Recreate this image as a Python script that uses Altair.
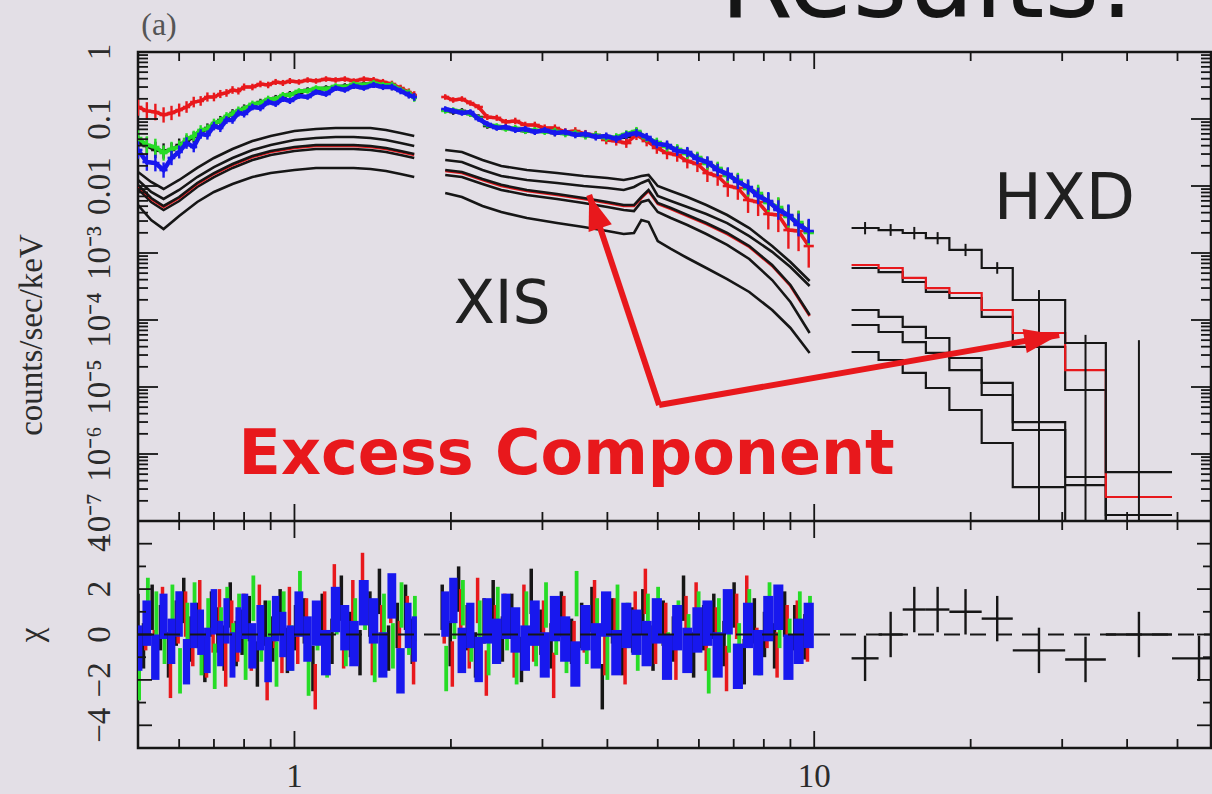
import math
import altair as alt
import pandas as pd

# ---------------- palette / fonts ----------------
RED, GREEN, BLUE, BLACK = "#e8181c", "#26dc26", "#1818ee", "#161616"
INK = "#2b2b2b"
BG = "#e3dfe6"
SERIF = "Liberation Serif"
SANS = "DejaVu Sans"

W, H_TOP, H_ALL = 1073, 469, 696   # plot width, upper panel height, both panels

# ---------------- XIS spectra (counts/sec/keV) ----------------
E_SOFT = [0.50, 0.52, 0.54, 0.56, 0.58, 0.60, 0.62, 0.64, 0.66, 0.68, 0.70, 0.72,
          0.74, 0.76, 0.78, 0.80, 0.83, 0.86, 0.89, 0.92, 0.95, 0.98, 1.02, 1.06,
          1.10, 1.15, 1.20, 1.25, 1.30, 1.36, 1.42, 1.48, 1.54, 1.60, 1.66, 1.70]
E_HARD = [1.95, 2.02, 2.10, 2.18, 2.26, 2.35, 2.45, 2.55, 2.66, 2.78, 2.90, 3.03,
          3.17, 3.32, 3.47, 3.63, 3.80, 3.98, 4.16, 4.35, 4.55, 4.76, 4.98, 5.21,
          5.45, 5.70, 5.96, 6.23, 6.52, 6.82, 7.13, 7.46, 7.80, 8.16, 8.53, 8.92,
          9.33, 9.76]

RED_SOFT = [0.151, 0.132, 0.127, 0.115, 0.123, 0.136, 0.151, 0.179, 0.186, 0.213,
            0.213, 0.236, 0.245, 0.271, 0.262, 0.300, 0.300, 0.333, 0.322, 0.357,
            0.345, 0.369, 0.357, 0.382, 0.369, 0.395, 0.382, 0.395, 0.369, 0.395,
            0.382, 0.357, 0.333, 0.290, 0.253, 0.228]
GREEN_SOFT = [0.0520, 0.0409, 0.0382, 0.0311, 0.0357, 0.0382, 0.0503, 0.0557, 0.0685, 0.0709,
              0.0872, 0.0934, 0.111, 0.119, 0.136, 0.141, 0.168, 0.173, 0.199, 0.199,
              0.228, 0.228, 0.262, 0.262, 0.290, 0.280, 0.311, 0.300, 0.333, 0.322,
              0.345, 0.322, 0.322, 0.271, 0.245, 0.206]
BLUE_SOFT = [0.0345, 0.0228, 0.0220, 0.0173, 0.0262, 0.0322, 0.0438, 0.0382, 0.0597, 0.0577,
             0.0786, 0.0734, 0.0966, 0.0966, 0.123, 0.119, 0.151, 0.146, 0.179, 0.168,
             0.199, 0.186, 0.220, 0.213, 0.253, 0.236, 0.290, 0.271, 0.311, 0.290,
             0.322, 0.300, 0.300, 0.262, 0.228, 0.213]
BLACK_SOFT = [0.0454, 0.0395, 0.0345, 0.0333, 0.0345, 0.0409, 0.0469, 0.0539, 0.0618, 0.0734,
              0.0814, 0.0966, 0.104, 0.123, 0.127, 0.146, 0.156, 0.179, 0.186, 0.206,
              0.213, 0.236, 0.245, 0.271, 0.271, 0.290, 0.290, 0.311, 0.311, 0.333,
              0.322, 0.333, 0.300, 0.280, 0.236, 0.213]

RED_HARD = [0.213, 0.192, 0.199, 0.173, 0.151, 0.107, 0.104, 0.0902, 0.0934, 0.0814,
            0.0814, 0.0734, 0.0734, 0.0640, 0.0662, 0.0597, 0.0577, 0.0486, 0.0469, 0.0438,
            0.0577, 0.0469, 0.0369, 0.0311, 0.0290, 0.0236, 0.0213, 0.0156, 0.0141, 0.0100,
            0.00934, 0.00618, 0.00577, 0.00382, 0.00369, 0.00220, 0.00213, 0.00127]
GREEN_HARD = [0.132, 0.136, 0.127, 0.119, 0.104, 0.0814, 0.0786, 0.0709, 0.0734, 0.0662,
              0.0685, 0.0640, 0.0662, 0.0597, 0.0618, 0.0557, 0.0577, 0.0520, 0.0539, 0.0597,
              0.0662, 0.0520, 0.0454, 0.0382, 0.0357, 0.0300, 0.0271, 0.0213, 0.0186, 0.0141,
              0.0123, 0.00902, 0.00786, 0.00557, 0.00486, 0.00345, 0.00290, 0.00199]
BLUE_HARD = [0.141, 0.132, 0.123, 0.127, 0.100, 0.0842, 0.0734, 0.0760, 0.0685, 0.0709,
             0.0640, 0.0685, 0.0618, 0.0640, 0.0577, 0.0597, 0.0539, 0.0557, 0.0503, 0.0577,
             0.0618, 0.0539, 0.0423, 0.0409, 0.0333, 0.0322, 0.0253, 0.0228, 0.0173, 0.0151,
             0.0115, 0.00966, 0.00709, 0.00597, 0.00438, 0.00369, 0.00262, 0.00213]
BLACK_HARD = [0.136, 0.127, 0.132, 0.119, 0.107, 0.0786, 0.0760, 0.0734, 0.0709, 0.0662,
              0.0662, 0.0662, 0.0618, 0.0618, 0.0597, 0.0577, 0.0557, 0.0539, 0.0520, 0.0539,
              0.0640, 0.0503, 0.0438, 0.0395, 0.0345, 0.0311, 0.0262, 0.0220, 0.0179, 0.0146,
              0.0119, 0.00934, 0.00734, 0.00577, 0.00454, 0.00357, 0.00271, 0.00206]

# fractional 1-sigma errors per bin
ERR_SOFT = [0.35, 0.35, 0.33, 0.30, 0.28, 0.25, 0.22, 0.20, 0.18, 0.17,
            0.16, 0.15, 0.14, 0.14, 0.13, 0.13, 0.12, 0.12, 0.12, 0.11,
            0.11, 0.11, 0.10, 0.10, 0.10, 0.10, 0.10, 0.10, 0.10, 0.10,
            0.11, 0.11, 0.12, 0.12, 0.13, 0.14]
ERR_HARD = [0.10, 0.10, 0.10, 0.10, 0.10, 0.10, 0.10, 0.10, 0.11, 0.11,
            0.11, 0.11, 0.12, 0.12, 0.12, 0.13, 0.13, 0.13, 0.14, 0.14,
            0.15, 0.15, 0.16, 0.17, 0.18, 0.19, 0.20, 0.22, 0.24, 0.26,
            0.28, 0.30, 0.33, 0.36, 0.40, 0.44, 0.48, 0.52]
ERR_HARD_BI = [0.10, 0.10, 0.10, 0.10, 0.10, 0.11, 0.11, 0.11, 0.12, 0.12,
               0.12, 0.13, 0.13, 0.14, 0.14, 0.15, 0.15, 0.16, 0.17, 0.18,
               0.19, 0.20, 0.22, 0.24, 0.26, 0.29, 0.32, 0.36, 0.40, 0.45,
               0.50, 0.56, 0.62, 0.70, 0.80, 0.90, 1.00, 1.10]

# residuals (chi) per bin
RES_BLACK_SOFT = [0.8, -0.5, 1.2, 0.3, -0.9, 0.5, 1.5, -0.2, 0.4, -1.1, 0.9, 0.2, -0.6, 1.3, -0.4, 0.1, 0.7, -1.3,
                  0.5, -0.2, 1.0, -0.7, 0.3, 0.6, -1.5, 0.8, -0.3, 1.6, 0.0, -0.8, 0.9, 1.9, -0.6, 0.4, 1.2, -0.3]
RES_RED_SOFT = [-1.6, 0.3, -0.8, 1.1, -1.8, 0.6, 0.9, -0.4, 1.4, -0.9, 0.2, 1.0, -1.3, 0.5, -0.2, 0.8, -0.6, 1.2,
                -1.9, 0.4, -0.7, 1.1, -0.3, 0.6, -2.3, 0.9, 2.1, -0.5, 1.4, 2.6, -0.8, 0.3, 1.5, -0.4, 0.7, -1.2]
RES_GREEN_SOFT = [-1.9, 1.5, 0.9, -0.3, 1.2, -1.6, 0.4, 1.3, -0.8, 0.6, -1.4, 0.2, 1.1, -0.5, 0.8, -1.0, 1.6, -0.2,
                  0.5, -1.3, 0.9, -0.6, 1.8, -1.7, 0.3, -0.9, 1.0, -0.4, 0.6, 1.2, -1.1, 0.8, -0.5, 1.3, 0.1, 0.7]
RES_BLUE_SOFT = [-0.6, 0.5, -1.0, 0.8, -0.3, 0.9, -1.2, 0.4, 0.1, -0.7, 1.0, -0.4, 0.6, -0.9, 0.2, 0.8, -0.5, 0.3,
                 -1.1, 0.7, 0.0, -0.6, 0.9, -0.2, 0.5, -0.8, 1.1, 0.3, -0.4, 1.4, 0.6, -0.9, 1.7, -1.6, 0.4, -0.2]
RES_BLACK_HARD = [1.2, -0.4, 2.0, 0.3, -0.9, 0.6, 1.4, -0.2, 0.8, -1.1, 1.9, 0.1, -0.5, 0.9, -0.3, 0.4, 1.1, -2.3, 0.6,
                  -0.8, 0.2, 1.0, -0.6, 0.5, -0.2, 1.6, -0.9, 0.3, 0.8, -0.4, 1.3, -1.2, 0.6, 0.0, -0.5, 0.9, 0.3, -0.1]
RES_RED_HARD = [0.6, -1.3, 1.0, -0.5, 1.5, -1.7, 0.3, 0.8, -0.9, 1.2, -0.2, 0.5, -1.8, 0.7, -0.4, 0.2, 1.4, -0.8, 0.6,
                -1.2, 0.9, 1.9, -0.3, 0.4, -1.0, 0.7, 1.3, -0.6, 0.2, -1.5, 0.8, 1.6, -0.7, 0.4, -0.9, 0.3, 0.5, -0.2]
RES_GREEN_HARD = [-1.5, 0.8, 1.4, -0.2, 0.5, -0.8, 1.1, 0.3, -1.2, 0.9, -0.4, 1.3, 0.1, -0.7, 1.8, -0.3, 0.6, -1.0, 1.2,
                  0.4, -0.6, 0.8, 1.1, -0.9, 0.5, -0.1, 0.9, -1.6, 0.6, 0.2, -0.5, 1.0, -0.8, 1.3, 0.4, -0.3, 0.9, 0.7]
RES_BLUE_HARD = [0.9, 1.5, -0.7, 0.4, -1.1, 0.6, -0.3, 0.8, 0.2, -0.6, 0.5, -0.9, 0.7, -0.2, -1.3, 0.3, -0.5, 0.9, -0.8,
                 0.4, 0.1, -0.4, 0.6, -1.0, 0.3, -0.7, 0.2, 0.5, -0.9, 1.0, -1.4, 0.4, -0.8, 0.7, 1.2, -1.0, -0.3, 0.4]

# ---------------- XIS model components ----------------
M_E_SOFT = [0.50, 0.53, 0.56, 0.60, 0.65, 0.70, 0.76, 0.83, 0.90, 1.00, 1.10, 1.20, 1.30, 1.40, 1.50, 1.60, 1.70]
M_E_HARD = [1.95, 2.10, 2.30, 2.50, 2.80, 3.20, 3.60, 4.00, 4.30, 4.50, 4.65, 4.80, 5.00, 5.30, 5.70,
            6.20, 6.80, 7.50, 8.30, 9.00, 9.80]
MOD_A_SOFT = [0.0162, 0.0115, 0.00902, 0.0123, 0.0186, 0.0262, 0.0357, 0.0469, 0.0557, 0.0662, 0.0709,
              0.0734, 0.0734, 0.0734, 0.0685, 0.0618, 0.0557]
MOD_B_SOFT = [0.0123, 0.00814, 0.00640, 0.00872, 0.0136, 0.0192, 0.0262, 0.0345, 0.0409, 0.0486, 0.0520,
              0.0539, 0.0539, 0.0520, 0.0486, 0.0438, 0.0395]
MOD_C_SOFT = [0.0104, 0.00662, 0.00503, 0.00685, 0.0111, 0.0156, 0.0213, 0.0280, 0.0333, 0.0382, 0.0409,
              0.0409, 0.0409, 0.0395, 0.0369, 0.0333, 0.0300]
MOD_X_SOFT = [0.0100, 0.00640, 0.00486, 0.00662, 0.0107, 0.0151, 0.0206, 0.0271, 0.0322, 0.0369, 0.0395,
              0.0395, 0.0395, 0.0382, 0.0357, 0.0322, 0.0290]
MOD_D_SOFT = [0.00902, 0.00577, 0.00438, 0.00597, 0.00966, 0.0136, 0.0186, 0.0244, 0.0290, 0.0333, 0.0357,
              0.0357, 0.0357, 0.0345, 0.0322, 0.0290, 0.0262]
MOD_E_SOFT = [0.00520, 0.00311, 0.00228, 0.00357, 0.00577, 0.00814, 0.0107, 0.0136, 0.0156, 0.0173, 0.0186,
              0.0186, 0.0186, 0.0179, 0.0167, 0.0151, 0.0136]
MOD_A_HARD = [0.0345, 0.0322, 0.0244, 0.0199, 0.0173, 0.0156, 0.0141, 0.0132, 0.0123, 0.0132, 0.0141, 0.0146,
              0.0100, 0.00842, 0.00685, 0.00520, 0.00369, 0.00236, 0.00127, 0.000734, 0.000382]
MOD_B_HARD = [0.0244, 0.0228, 0.0173, 0.0141, 0.0123, 0.0111, 0.0100, 0.00934, 0.00872, 0.00966, 0.0111, 0.0123,
              0.00709, 0.00597, 0.00486, 0.00382, 0.00280, 0.00179, 0.00104, 0.000618, 0.000322]
MOD_C_HARD = [0.0173, 0.0162, 0.0127, 0.0104, 0.00872, 0.00760, 0.00662, 0.00577, 0.00520, 0.00520, 0.00685,
              0.00872, 0.00557, 0.00469, 0.00369, 0.00280, 0.00199, 0.00127, 0.000662, 0.000333, 0.000119]
MOD_X_HARD = [0.0167, 0.0156, 0.0123, 0.0100, 0.00842, 0.00734, 0.00640, 0.00557, 0.00503, 0.00503, 0.00662,
              0.00842, 0.00539, 0.00454, 0.00357, 0.00271, 0.00192, 0.00123, 0.000640, 0.000322, 0.000115]
MOD_D_HARD = [0.0146, 0.0136, 0.0107, 0.00872, 0.00734, 0.00640, 0.00557, 0.00486, 0.00438, 0.00423, 0.00577,
              0.00618, 0.00409, 0.00333, 0.00262, 0.00192, 0.00132, 0.000814, 0.000395, 0.000186, 0.0000640]
MOD_E_HARD = [0.00786, 0.00685, 0.00503, 0.00409, 0.00333, 0.00280, 0.00244, 0.00213, 0.00192, 0.00199, 0.00311,
              0.00290, 0.00151, 0.00115, 0.000842, 0.000597, 0.000409, 0.000262, 0.000141, 0.0000760, 0.0000322]

# ---------------- HXD spectra ----------------
HXD_EDGES = [11.8, 13.3, 14.8, 16.4, 18.2, 21.0, 24.1, 30.4, 36.4, 48.8]
HXD_TOTAL = [2.36e-3, 2.20e-3, 1.99e-3, 1.67e-3, 1.11e-3, 5.97e-4, 1.99e-4, 4.54e-5, 5.38e-7]
HXD_TOTAL_HI = [2.9e-3, 2.7e-3, 2.45e-3, 2.05e-3, 1.37e-3, 7.3e-4, 2.8e-4, 6.0e-5, 5.0e-5]
HXD_TOTAL_LO = [1.9e-3, 1.8e-3, 1.6e-3, 1.35e-3, 9.0e-4, 4.9e-4, 1e-9, 1e-9, 1e-9]
HXD_MODEL_K = [5.97e-4, 5.20e-4, 3.69e-4, 2.62e-4, 2.13e-4, 1.11e-4, 3.96e-5, 9.02e-6, 1.23e-7]
HXD_EXCESS = [6.62e-4, 5.97e-4, 4.24e-4, 3.0e-4, 2.53e-4, 1.41e-4, 6.40e-5, 1.79e-5, 2.28e-7]
HXD_COMP_3 = [1.41e-4, 1.11e-4, 7.87e-5, 5.39e-5, 2.71e-5, 1.15e-5, 3.0e-6, 4.54e-7, 5e-8]
HXD_COMP_4 = [8.42e-5, 6.62e-5, 4.69e-5, 3.22e-5, 1.79e-5, 7.60e-6, 2.28e-6, 3.44e-7, 5e-8]
HXD_COMP_5 = [3.33e-5, 2.53e-5, 1.62e-5, 9.66e-6, 4.54e-6, 1.46e-6, 3.21e-7, 5e-8, 5e-8]
HXD_RES_EDGES = [11.8, 13.3, 14.8, 16.4, 18.2, 21.0, 24.1, 30.4, 36.4, 48.8, 62.0]
HXD_CHI = [-1.05, 0.0, 1.1, 1.1, 1.0, 0.7, -0.7, -1.1, 0.0, -1.05]

# ---------------- axis ticks / labels ----------------
X_MAJOR = [1, 10]
X_MINOR = [0.6, 0.7, 0.8, 0.9, 2, 3, 4, 5, 6, 7, 8, 9, 20, 30, 40, 50]
X_LABELS = ["1", "10"]
Y_DECADES = [1e-7, 1e-6, 1e-5, 1e-4, 1e-3, 1e-2, 1e-1, 1]
Y_MULTS = [2, 3, 4, 5, 6, 7, 8, 9]
Y_LABELS = ["10\u207b\u2077", "10\u207b\u2076", "10\u207b\u2075", "10\u207b\u2074", "10\u207b\u00b3",
            "0.01", "0.1", "1"]
CHI_MAJOR = [-4, -2, 0, 2, 4]
CHI_MINOR = [-3, -1, 1, 3]
CHI_LABELS = ["\u22124", "\u22122", "0", "2", "4"]

# ---------------- scales ----------------
X_SCALE = alt.Scale(type="log", domain=[0.5, 58], nice=False, clamp=True)
Y_TOP = alt.Scale(type="log", domain=[1e-7, 1], range=[H_TOP, 0], nice=False, clamp=True)
Y_BOT = alt.Scale(type="linear", domain=[-5, 5], range=[H_ALL, H_TOP], nice=False, zero=False, clamp=True)


def X(f):
    return alt.X(f"{f}:Q", scale=X_SCALE, axis=None)


def YT(f):
    return alt.Y(f"{f}:Q", scale=Y_TOP, axis=None)


def YB(f):
    return alt.Y(f"{f}:Q", scale=Y_BOT, axis=None)


def bin_edges(es):
    mids = [math.sqrt(a * b) for a, b in zip(es[:-1], es[1:])]
    return [es[0] ** 2 / mids[0]] + mids, mids + [es[-1] ** 2 / mids[-1]]


layers = []
one = pd.DataFrame({"k": [0]})

# ---------- HXD upper panel: step spectra ----------
def step_table(edges, vals):
    return pd.DataFrame({"E": list(edges), "v": list(vals) + [vals[-1]]})


for vals, col in [(HXD_COMP_5, BLACK), (HXD_COMP_4, BLACK), (HXD_COMP_3, BLACK),
                  (HXD_MODEL_K, BLACK), (HXD_EXCESS, RED), (HXD_TOTAL, BLACK)]:
    layers.append(alt.Chart(step_table(HXD_EDGES, vals)).mark_line(
        interpolate="step-after", color=col, strokeWidth=2.2, clip=True).encode(x=X("E"), y=YT("v")))

hxd_mid = [math.sqrt(a * b) for a, b in zip(HXD_EDGES[:-1], HXD_EDGES[1:])]
hxd_err = pd.DataFrame({"E": hxd_mid, "lo": HXD_TOTAL_LO, "hi": HXD_TOTAL_HI})
layers.append(alt.Chart(hxd_err).mark_rule(color=BLACK, strokeWidth=2, clip=True).encode(
    x=X("E"), y=YT("lo"), y2=alt.Y2("hi")))

# ---------- XIS model components ----------
def model_table(soft, hard):
    return pd.DataFrame({"E": M_E_SOFT + M_E_HARD, "v": soft + hard,
                         "seg": ["s"] * len(M_E_SOFT) + ["h"] * len(M_E_HARD)})


for soft, hard, col in [(MOD_E_SOFT, MOD_E_HARD, BLACK), (MOD_D_SOFT, MOD_D_HARD, BLACK),
                        (MOD_X_SOFT, MOD_X_HARD, RED), (MOD_C_SOFT, MOD_C_HARD, BLACK),
                        (MOD_B_SOFT, MOD_B_HARD, BLACK), (MOD_A_SOFT, MOD_A_HARD, BLACK)]:
    layers.append(alt.Chart(model_table(soft, hard)).mark_line(color=col, strokeWidth=2.6, clip=True).encode(
        x=X("E"), y=YT("v"), detail="seg:N"))

# ---------- XIS data and residuals ----------
SOFT_LO, SOFT_HI = bin_edges(E_SOFT)
HARD_LO, HARD_HI = bin_edges(E_HARD)

# colour, spectra, hard-band errors, residuals, dodge slot, line width, residual bar width
xis_sets = [
    (BLACK, BLACK_SOFT, BLACK_HARD, ERR_HARD, RES_BLACK_SOFT, RES_BLACK_HARD, 0, 3.5, 3.5),
    (RED, RED_SOFT, RED_HARD, ERR_HARD_BI, RES_RED_SOFT, RES_RED_HARD, 1, 3.5, 3.5),
    (GREEN, GREEN_SOFT, GREEN_HARD, ERR_HARD, RES_GREEN_SOFT, RES_GREEN_HARD, 2, 4.0, 3.8),
    (BLUE, BLUE_SOFT, BLUE_HARD, ERR_HARD, RES_BLUE_SOFT, RES_BLUE_HARD, 3, 4.5, None),
]

spec_layers, res_layers = [], []
for col, soft, hard, err_hard, rsoft, rhard, k, lw, rw in xis_sets:
    rows, rrows = [], []
    for seg, es, vals, errs, lo, hi, chis in (
            ("s", E_SOFT, soft, ERR_SOFT, SOFT_LO, SOFT_HI, rsoft),
            ("h", E_HARD, hard, err_hard, HARD_LO, HARD_HI, rhard)):
        for e, v, f, a, b, c in zip(es, vals, errs, lo, hi, chis):
            rows.append({"E": e, "v": v, "vlo": v / (1 + f), "vhi": v * (1 + f),
                         "Elo": a, "Ehi": b, "seg": seg})
            xk = a * (b / a) ** ((k + 0.5) / 4)   # spread the detectors across the bin
            rrows.append({"E": xk, "Elo": a, "Ehi": b, "clo": c - 1, "chi": c + 1})
    df = pd.DataFrame(rows)
    rdf = pd.DataFrame(rrows)
    base = alt.Chart(df)
    spec_layers += [
        base.mark_line(color=col, strokeWidth=lw, clip=True).encode(x=X("E"), y=YT("v"), detail="seg:N"),
        base.mark_rule(color=col, strokeWidth=2.4, clip=True).encode(x=X("E"), y=YT("vlo"), y2=alt.Y2("vhi")),
        base.mark_rule(color=col, strokeWidth=2.6, clip=True).encode(x=X("Elo"), x2=alt.X2("Ehi"), y=YT("v")),
    ]
    if rw is None:
        # the densest detector: its error boxes fill the whole bin
        res_layers.append(alt.Chart(rdf).mark_rect(color=col, clip=True).encode(
            x=X("Elo"), x2=alt.X2("Ehi"), y=YB("clo"), y2=alt.Y2("chi")))
    else:
        res_layers.append(alt.Chart(rdf).mark_rule(color=col, strokeWidth=rw, clip=True).encode(
            x=X("E"), y=YB("clo"), y2=alt.Y2("chi")))

layers += spec_layers + res_layers

# zero line of the residual panel
layers.append(alt.Chart(pd.DataFrame({"z": [0]})).mark_rule(
    color=BLACK, strokeWidth=2, strokeDash=[16, 10]).encode(y=YB("z"), x=alt.value(0), x2=alt.value(W)))

# HXD residual crosses
hres = pd.DataFrame({"lo": HXD_RES_EDGES[:-1], "hi": HXD_RES_EDGES[1:], "c": HXD_CHI})
hres["mid"] = [math.sqrt(a * b) for a, b in zip(hres["lo"], hres["hi"])]
hres["clo"] = hres["c"] - 1
hres["chi"] = hres["c"] + 1
layers += [
    alt.Chart(hres).mark_rule(color=BLACK, strokeWidth=2.4, clip=True).encode(
        x=X("lo"), x2=alt.X2("hi"), y=YB("c")),
    alt.Chart(hres).mark_rule(color=BLACK, strokeWidth=2.4, clip=True).encode(
        x=X("mid"), y=YB("clo"), y2=alt.Y2("chi")),
]

# ---------- frame divider and ticks ----------
layers.append(alt.Chart(one).mark_rule(color=BLACK, strokeWidth=2.5).encode(
    x=alt.value(0), x2=alt.value(W), y=alt.value(H_TOP)))


def x_ticks(vals, length):
    base = alt.Chart(pd.DataFrame({"E": vals})).mark_rule(color=BLACK, strokeWidth=1.8)
    return [base.encode(x=X("E"), y=alt.value(0), y2=alt.value(length)),
            base.encode(x=X("E"), y=alt.value(H_TOP - length), y2=alt.value(H_TOP + length)),
            base.encode(x=X("E"), y=alt.value(H_ALL - length), y2=alt.value(H_ALL))]


def y_ticks(vals, scale, length):
    base = alt.Chart(pd.DataFrame({"v": vals})).mark_rule(color=BLACK, strokeWidth=1.8)
    y = alt.Y("v:Q", scale=scale, axis=None)
    return [base.encode(y=y, x=alt.value(0), x2=alt.value(length)),
            base.encode(y=y, x=alt.value(W - length), x2=alt.value(W))]


y_minor = [m * d for d in Y_DECADES[:-1] for m in Y_MULTS]
layers += x_ticks(X_MAJOR, 17) + x_ticks(X_MINOR, 9)
layers += y_ticks(Y_DECADES, Y_TOP, 20) + y_ticks(y_minor, Y_TOP, 10)
layers += y_ticks(CHI_MAJOR, Y_BOT, 14) + y_ticks(CHI_MINOR, Y_BOT, 8)

# ---------- tick labels and axis titles ----------
lab_mark = dict(font=SERIF, fontSize=33, color=INK, align="center", baseline="middle")
layers += [
    alt.Chart(pd.DataFrame({"v": Y_DECADES, "t": Y_LABELS})).mark_text(angle=270, **lab_mark).encode(
        x=alt.value(-38), y=alt.Y("v:Q", scale=Y_TOP, axis=None), text="t:N"),
    alt.Chart(pd.DataFrame({"v": CHI_MAJOR, "t": CHI_LABELS})).mark_text(angle=270, **lab_mark).encode(
        x=alt.value(-38), y=alt.Y("v:Q", scale=Y_BOT, axis=None), text="t:N"),
    alt.Chart(pd.DataFrame({"E": X_MAJOR, "t": X_LABELS})).mark_text(**lab_mark).encode(
        x=X("E"), y=alt.value(725), text="t:N"),
    alt.Chart(pd.DataFrame({"t": ["counts/sec/keV"]})).mark_text(angle=270, **lab_mark).encode(
        x=alt.value(-106), y=alt.value(283), text="t:N"),
    alt.Chart(pd.DataFrame({"t": ["\u03c7"]})).mark_text(angle=270, **lab_mark).encode(
        x=alt.value(-106), y=alt.value(583), text="t:N"),
    alt.Chart(pd.DataFrame({"t": ["(a)"]})).mark_text(
        font=SERIF, fontSize=32, color="#555555", align="center", baseline="middle").encode(
        x=alt.value(21), y=alt.value(-27), text="t:N"),
    alt.Chart(pd.DataFrame({"t": ["Results:"]})).mark_text(
        font=SANS, fontSize=105, color="#151515", align="left", baseline="alphabetic").encode(
        x=alt.value(582), y=alt.value(-35), text="t:N"),
]

# ---------- annotations ----------
layers += [
    alt.Chart(pd.DataFrame({"E": [2.51], "v": [1.67e-4], "t": ["XIS"]})).mark_text(
        font=SANS, fontSize=60, color="#202020", align="center", baseline="middle").encode(
        x=X("E"), y=YT("v"), text="t:N"),
    alt.Chart(pd.DataFrame({"E": [30.3], "v": [6.18e-3], "t": ["HXD"]})).mark_text(
        font=SANS, fontSize=64, color="#202020", align="center", baseline="middle").encode(
        x=X("E"), y=YT("v"), text="t:N"),
    alt.Chart(pd.DataFrame({"E": [3.34], "v": [9.66e-7], "t": ["Excess Component"]})).mark_text(
        font=SANS, fontSize=62, fontWeight="bold", color=RED, align="center", baseline="middle").encode(
        x=X("E"), y=YT("v"), text="t:N"),
]

arrows = pd.DataFrame({"E0": [5.03, 5.03], "v0": [5.4e-6, 5.4e-6],
                       "E1": [3.69, 29.6], "v1": [7.34e-3, 5.97e-5], "ang": [341.6, 80.1]})
layers += [
    alt.Chart(arrows).mark_rule(color=RED, strokeWidth=6).encode(
        x=X("E0"), y=YT("v0"), x2=alt.X2("E1"), y2=alt.Y2("v1")),
    alt.Chart(arrows).mark_point(shape="M0,0L-0.7,2L0.7,2Z", filled=True, size=1225,
                                 color=RED, opacity=1, strokeWidth=0).encode(
        x=X("E1"), y=YT("v1"), angle=alt.Angle("ang:Q", scale=None)),
]

chart = alt.layer(*layers).resolve_scale(y="independent").properties(
    width=W, height=H_ALL,
    autosize=alt.AutoSizeParams(type="none"),
    padding={"left": 138, "top": 52, "right": 1, "bottom": 46},
    background=BG,
).configure_view(stroke=BLACK, strokeWidth=2.5)

chart.save("out.html", embed_options={"renderer": "svg", "actions": False})
